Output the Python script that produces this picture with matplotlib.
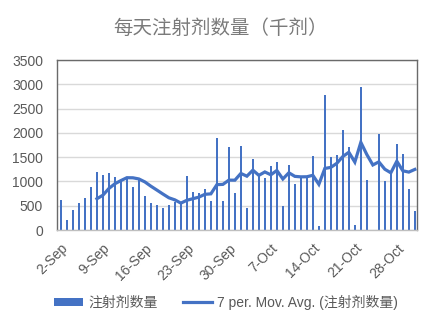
import matplotlib.pyplot as plt
import numpy as np
import pandas as pd
from matplotlib.patches import Patch
from matplotlib.lines import Line2D

plt.rcParams['font.family'] = ['Liberation Sans', 'Noto Sans CJK SC', 'DejaVu Sans']

# 每天注射剂数量（千剂），9月2日起共60天
start = '2021-09-02'
doses = [614, 198, 403, 553, 655, 894, 1187, 1126, 1167, 1085,
         1010, 1070, 880, 1020, 696, 553, 525, 443, 525, 580,
         555, 1105, 778, 752, 849, 593, 1904, 593, 1719, 770,
         1726, 451, 1460, 1160, 1080, 1312, 1390, 500, 1346, 943,
         1090, 1095, 1521, 89, 2788, 1500, 1534, 2068, 1705, 103,
         2938, 1025, 0, 1983, 1005, 1190, 1774, 1555, 840, 386]
bar_name = '注射剂数量'
ma_name = '7 per. Mov. Avg. (注射剂数量)'
title = '每天注射剂数量（千剂）'

dates = pd.date_range(start, periods=len(doses))
ma = pd.Series(doses).rolling(7).mean()
x = np.arange(len(doses))

blue = '#4472C4'
grey = '#595959'

fig = plt.figure(figsize=(4.3, 3.24), dpi=100)
ax = fig.add_axes([0.1326, 0.2901, 0.837, 0.5247])

ax.bar(x, doses, width=0.38, color=blue, zorder=2)
ax.plot(x, ma, color=blue, lw=2.3, zorder=3, solid_joinstyle='miter')

ax.set_xlim(-0.65, len(doses) - 0.65)
ax.set_ylim(0, 3500)
ax.set_yticks(np.arange(0, 3501, 500))
ax.yaxis.grid(True, color='#D9D9D9', lw=1.0, zorder=0)
ax.set_axisbelow(True)

ticks = x[::7]
ax.set_xticks(ticks)
ax.set_xticklabels([f'{d.day}-{d.strftime("%b")}' for d in dates[::7]],
                   rotation=45, ha='right', va='top', rotation_mode='anchor')
ax.tick_params(axis='both', length=0, labelsize=10, colors=grey)
ax.tick_params(axis='y', pad=10)
ax.tick_params(axis='x', pad=8)

for s in ax.spines.values():
    s.set_color('#6a6a6a')
    s.set_linewidth(1.0)
ax.spines['bottom'].set_color('#BFBFBF')

fig.suptitle(title, x=0.512, y=0.913, va='center', fontsize=14,
             color='#7a7a7a', fontweight='light')

handles = [Patch(facecolor=blue, edgecolor='none'),
           Line2D([0], [0], color=blue, lw=2.3)]
fig.legend(handles, [bar_name, ma_name], loc='center', ncol=2,
           bbox_to_anchor=(226 / 430, 0.068), frameon=False,
           fontsize=10, labelcolor=grey, handlelength=2.1, handleheight=0.5,
           handletextpad=0.4, columnspacing=1.8)

fig.savefig('out.png', dpi=100)
